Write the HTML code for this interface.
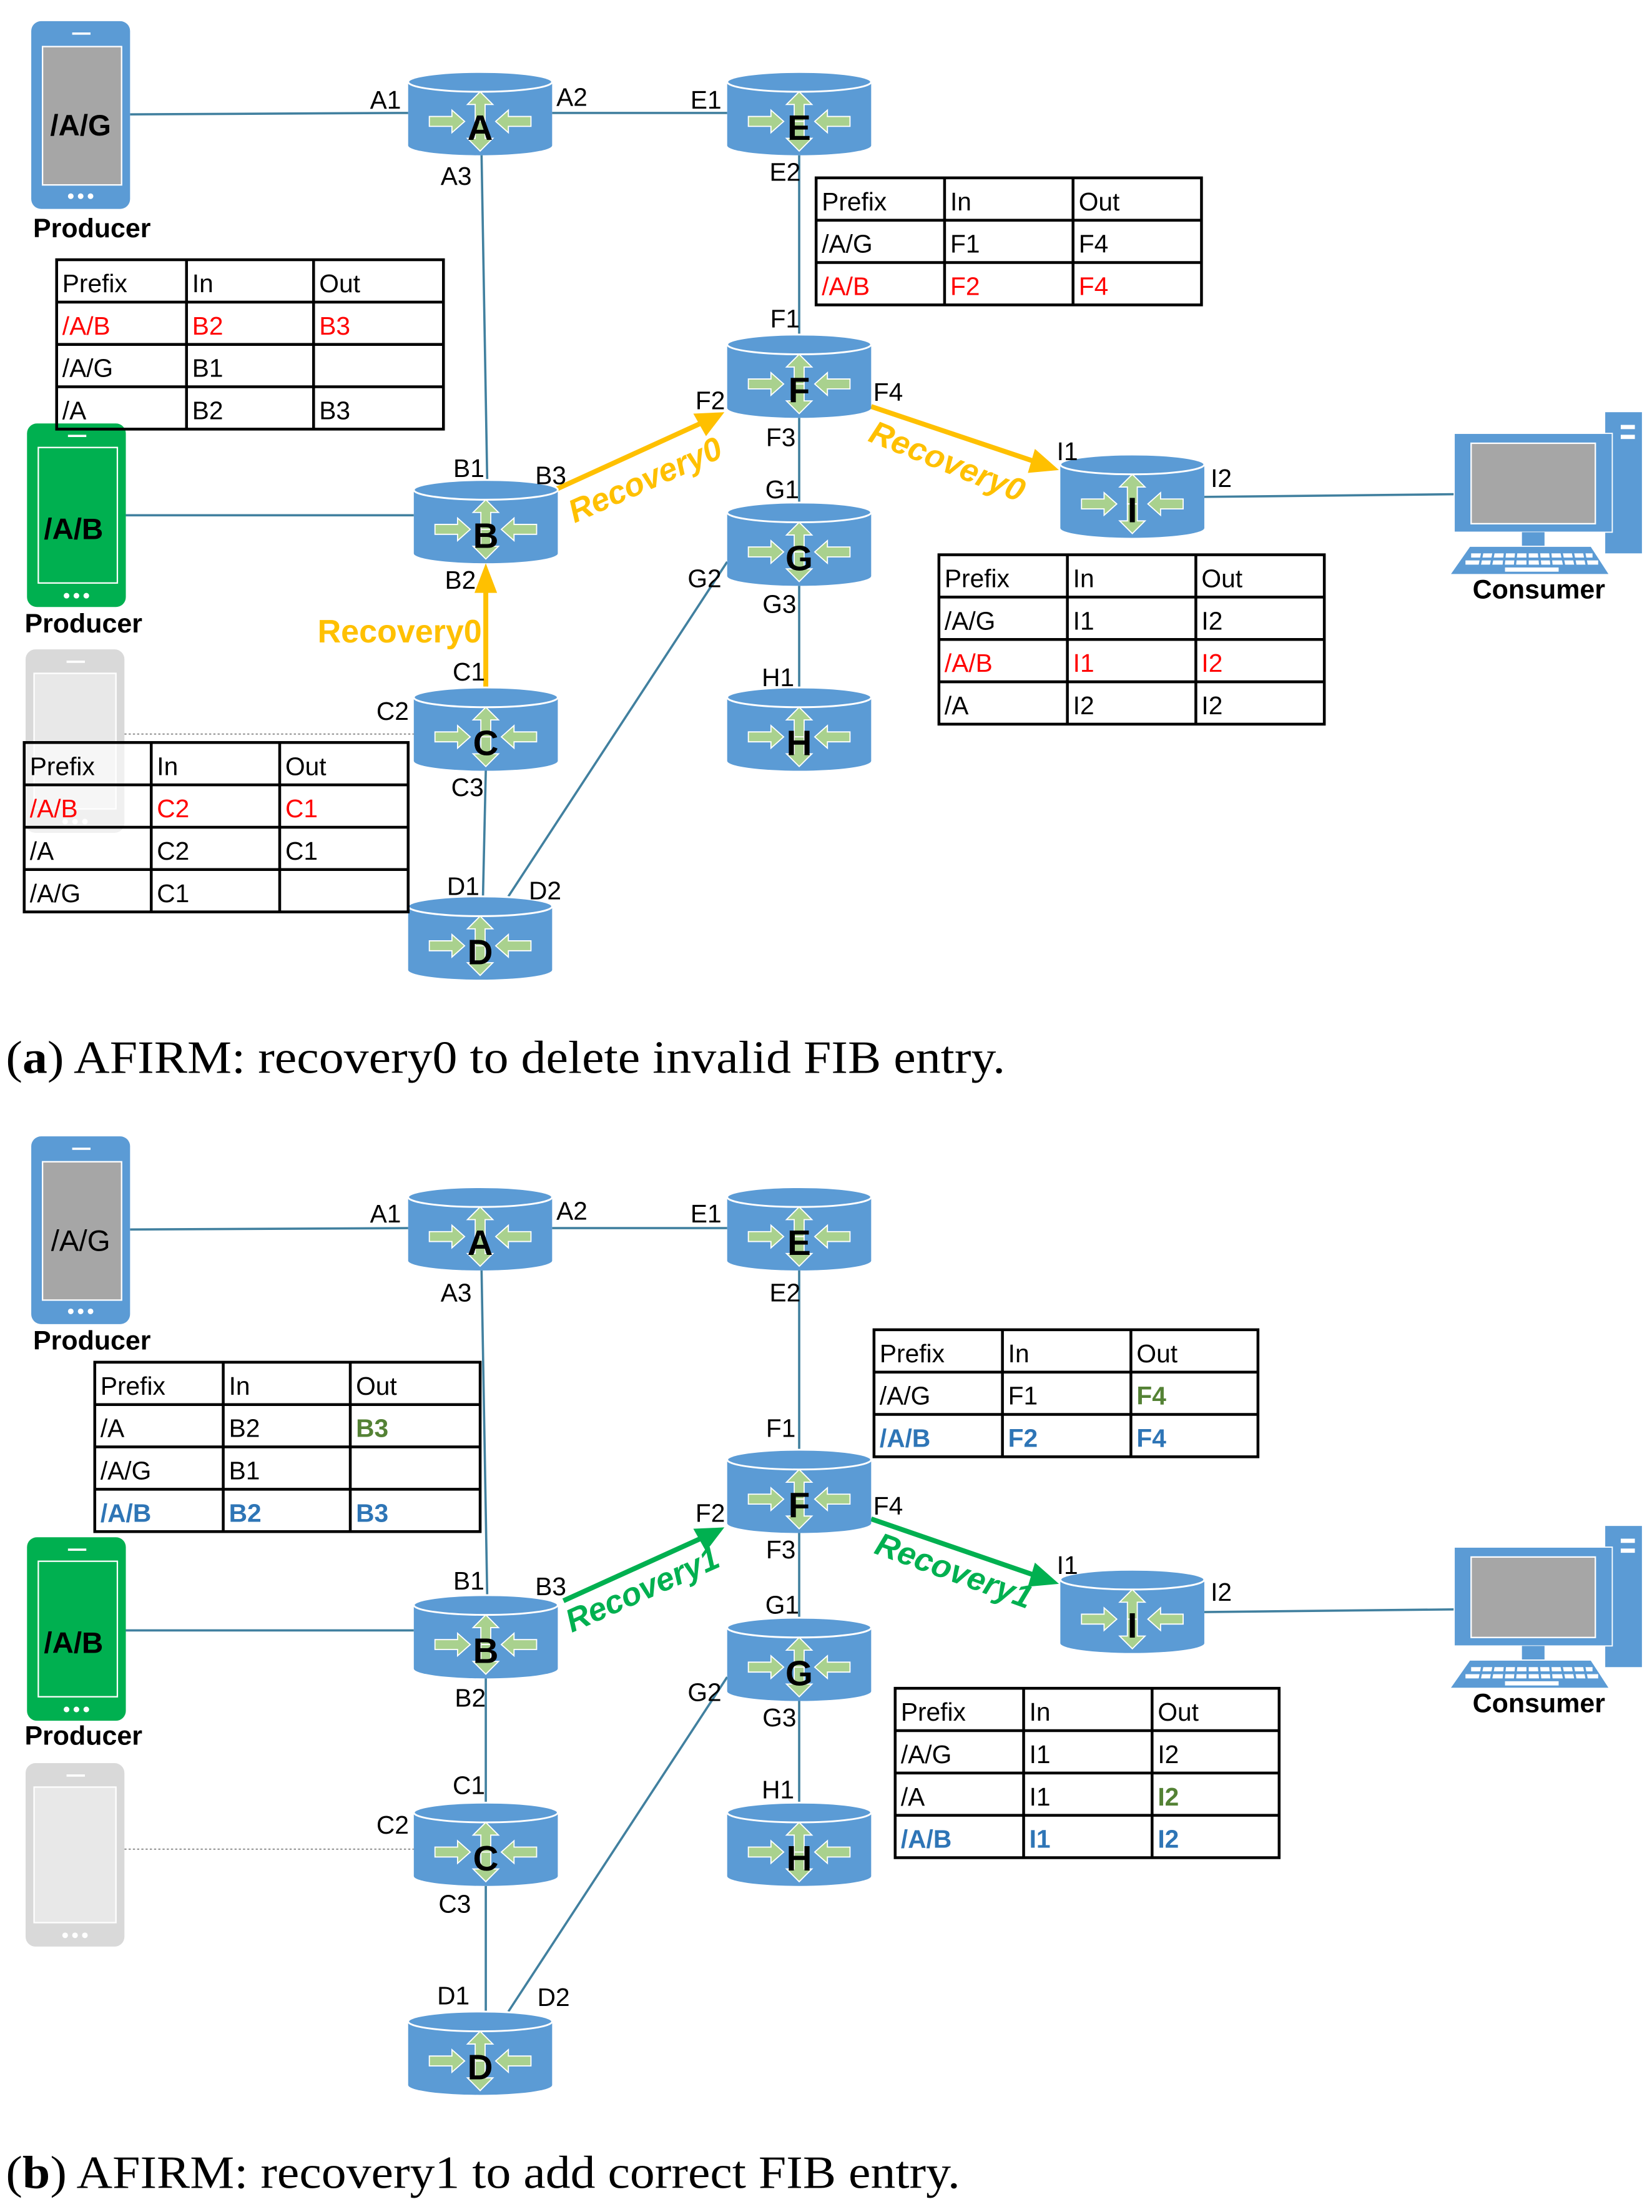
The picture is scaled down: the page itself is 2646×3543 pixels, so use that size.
<!DOCTYPE html>
<html><head><meta charset="utf-8"><style>
html,body{margin:0;padding:0;background:#fff}
svg{display:block}
.p{font-family:"Liberation Sans",sans-serif;font-size:18px;fill:#000;text-anchor:middle}
.t{font-family:"Liberation Sans",sans-serif;font-size:18px;fill:#000}
.rl{font-family:"Liberation Sans",sans-serif;font-size:25px;font-weight:bold;text-anchor:middle}
.lab{font-family:"Liberation Sans",sans-serif;font-size:19px;font-weight:bold;text-anchor:middle;fill:#000}
.rec{font-family:"Liberation Sans",sans-serif;font-size:23px;font-weight:bold;font-style:italic;text-anchor:middle}
.cap{font-family:"Liberation Serif",serif;font-size:33px;fill:#000}
.ln{stroke:#41809f;stroke-width:1.6;fill:none}
.tb{fill:none;stroke:#000;stroke-width:2}
.red{fill:#ff0000}.gr{fill:#548235;font-weight:bold}.bl{fill:#2e75b6;font-weight:bold}
</style></head><body>
<svg width="2646" height="3543" viewBox="0 0 1170 1567" xmlns="http://www.w3.org/2000/svg">
<defs>
<g id="r">
<path d="M-51,7 L-51,52 A51,7 0 0 0 51,52 L51,7 Z" fill="#5b9bd5"/>
<ellipse cx="0" cy="7" rx="51" ry="7" fill="#5b9bd5" stroke="#fff" stroke-width="1.3"/>
<g fill="#a9d18e" stroke="#fff" stroke-width="0.8">
<polygon points="0,14 9,23 3.5,23 3.5,35 -3.5,35 -3.5,23 -9,23"/>
<polygon points="0,56 9,47 3.5,47 3.5,35 -3.5,35 -3.5,47 -9,47"/>
<polygon points="-11,35 -20,27 -20,31.5 -36,31.5 -36,38.5 -20,38.5 -20,43"/>
<polygon points="11,35 20,27 20,31.5 36,31.5 36,38.5 20,38.5 20,43"/>
</g>
</g>
<g id="phoneB">
<rect x="0" y="0" width="70" height="133" rx="7" fill="#5b9bd5"/>
<rect x="8" y="18" width="56" height="98" fill="#a6a6a6" stroke="#fff" stroke-width="1"/>
<rect x="29" y="8" width="13" height="1.6" fill="#fff"/>
<circle cx="28" cy="124" r="2" fill="#fff"/><circle cx="35" cy="124" r="2" fill="#fff"/><circle cx="42" cy="124" r="2" fill="#fff"/>
</g>
<g id="phoneG">
<rect x="0" y="0" width="70" height="130" rx="7" fill="#00b050"/>
<rect x="8" y="17" width="56" height="96" fill="#00b050" stroke="#fff" stroke-width="1"/>
<rect x="29" y="8" width="13" height="1.6" fill="#fff"/>
<circle cx="28" cy="122" r="2" fill="#fff"/><circle cx="35" cy="122" r="2" fill="#fff"/><circle cx="42" cy="122" r="2" fill="#fff"/>
</g>
<g id="phoneL">
<rect x="0" y="0" width="70" height="130" rx="7" fill="#d9d9d9"/>
<rect x="6" y="17" width="58" height="96" fill="#e8e8e8" stroke="#fff" stroke-width="1"/>
<rect x="29" y="8" width="13" height="1.6" fill="#fff"/>
<circle cx="28" cy="122" r="2" fill="#fff"/><circle cx="35" cy="122" r="2" fill="#fff"/><circle cx="42" cy="122" r="2" fill="#fff"/>
</g>
<g id="pc">
<rect x="107" y="0" width="26" height="100" fill="#5b9bd5"/>
<rect x="118" y="9" width="10" height="3" fill="#fff"/><rect x="118" y="16" width="10" height="3" fill="#fff"/>
<rect x="0" y="15" width="112" height="70" fill="#5b9bd5" stroke="#fff" stroke-width="0.8"/>
<rect x="12" y="22" width="88" height="57" fill="#a6a6a6" stroke="#fff" stroke-width="1"/>
<rect x="48" y="85" width="16" height="10" fill="#5b9bd5"/>
<polygon points="11,95 97,95 110,115 -3,115" fill="#5b9bd5" stroke="#fff" stroke-width="0.8"/>
<g fill="#fff"><rect x="12" y="100" width="86" height="3"/><rect x="8" y="105" width="94" height="3"/><rect x="36" y="110" width="38" height="3"/></g>
<g stroke="#5b9bd5" stroke-width="1.6"><line x1="20" y1="99" x2="18" y2="109"/><line x1="28" y1="99" x2="26" y2="109"/><line x1="36" y1="99" x2="35" y2="109"/><line x1="44" y1="99" x2="43" y2="109"/><line x1="52" y1="99" x2="52" y2="109"/><line x1="60" y1="99" x2="61" y2="109"/><line x1="68" y1="99" x2="69" y2="109"/><line x1="76" y1="99" x2="78" y2="109"/><line x1="84" y1="99" x2="86" y2="109"/><line x1="92" y1="99" x2="94" y2="109"/></g>
</g>
</defs>

<!-- ================= PANEL A ================= -->
<g class="ln">
<line x1="92" y1="81" x2="289" y2="80"/>
<line x1="391" y1="80" x2="515" y2="80"/>
<line x1="341" y1="110" x2="345" y2="340"/>
<line x1="566" y1="110" x2="566" y2="237"/>
<line x1="566" y1="296" x2="566" y2="356"/>
<line x1="566" y1="415" x2="566" y2="487"/>
<line x1="89" y1="365" x2="293" y2="365"/>
<line x1="344" y1="546" x2="342" y2="635"/>
<line x1="360" y1="635" x2="515" y2="398"/>
<line x1="853" y1="352" x2="1040" y2="350"/>
</g>
<line x1="88" y1="520" x2="293" y2="520" stroke="#999" stroke-width="1" stroke-dasharray="1.5,1.5"/>
<g stroke="#ffc000" stroke-width="3.5" fill="none">
<line x1="344" y1="487" x2="344" y2="418"/>
<line x1="393" y1="347" x2="496" y2="300"/>
<line x1="617" y1="288" x2="733" y2="327"/>
</g>
<g fill="#ffc000">
<polygon points="344,399 336,420 352,420"/>
<polygon points="513,292 491,293 500,309"/>
<polygon points="750,333 733,318 728,335"/>
</g>

<use href="#phoneB" x="22" y="15"/>
<text class="lab" x="57" y="96" style="font-size:21px">/A/G</text>
<text class="lab" x="65" y="168">Producer</text>
<use href="#phoneG" x="19" y="300"/>
<text class="lab" x="52" y="382" style="font-size:21px">/A/B</text>
<text class="lab" x="59" y="448">Producer</text>
<use href="#phoneL" x="18" y="460"/>
<use href="#pc" x="1030" y="292"/>
<text class="lab" x="1090" y="424">Consumer</text>

<use href="#r" x="340" y="51"/><text class="rl" x="340" y="99">A</text>
<use href="#r" x="566" y="51"/><text class="rl" x="566" y="99">E</text>
<use href="#r" x="566" y="237"/><text class="rl" x="566" y="285">F</text>
<use href="#r" x="344" y="340"/><text class="rl" x="344" y="388">B</text>
<use href="#r" x="566" y="356"/><text class="rl" x="566" y="404">G</text>
<use href="#r" x="802" y="322"/><text class="rl" x="802" y="370">I</text>
<use href="#r" x="344" y="487"/><text class="rl" x="344" y="535">C</text>
<use href="#r" x="566" y="487"/><text class="rl" x="566" y="535">H</text>
<use href="#r" x="340" y="635"/><text class="rl" x="340" y="683">D</text>

<g class="p">
<text x="273" y="77">A1</text><text x="405" y="75">A2</text><text x="500" y="77">E1</text>
<text x="323" y="131">A3</text><text x="556" y="128">E2</text><text x="556" y="232">F1</text>
<text x="503" y="290">F2</text><text x="629" y="284">F4</text><text x="553" y="316">F3</text>
<text x="332" y="338">B1</text><text x="390" y="343">B3</text><text x="554" y="353">G1</text>
<text x="756" y="326">I1</text><text x="865" y="345">I2</text><text x="326" y="417">B2</text>
<text x="499" y="416">G2</text><text x="552" y="434">G3</text><text x="332" y="482">C1</text>
<text x="278" y="510">C2</text><text x="551" y="486">H1</text><text x="331" y="564">C3</text>
<text x="328" y="634">D1</text><text x="386" y="637">D2</text>
</g>
<g class="rec" fill="#ffc000">
<text x="283" y="455" style="font-style:normal">Recovery0</text>
<text transform="translate(460,347) rotate(-24)">Recovery0</text>
<text transform="translate(668,334) rotate(22)">Recovery0</text>
</g>

<g class="tb"><rect x="40" y="184" width="274" height="120"/>
<line x1="40" y1="214" x2="314" y2="214"/><line x1="40" y1="244" x2="314" y2="244"/><line x1="40" y1="274" x2="314" y2="274"/>
<line x1="132" y1="184" x2="132" y2="304"/><line x1="222" y1="184" x2="222" y2="304"/></g>
<g class="t">
<text x="44" y="207">Prefix</text><text x="136" y="207">In</text><text x="226" y="207">Out</text>
<text x="44" y="237" class="red">/A/B</text><text x="136" y="237" class="red">B2</text><text x="226" y="237" class="red">B3</text>
<text x="44" y="267">/A/G</text><text x="136" y="267">B1</text>
<text x="44" y="297">/A</text><text x="136" y="297">B2</text><text x="226" y="297">B3</text>
</g>
<g class="tb"><rect x="578" y="126" width="273" height="90"/>
<line x1="578" y1="156" x2="851" y2="156"/><line x1="578" y1="186" x2="851" y2="186"/>
<line x1="669" y1="126" x2="669" y2="216"/><line x1="760" y1="126" x2="760" y2="216"/></g>
<g class="t">
<text x="582" y="149">Prefix</text><text x="673" y="149">In</text><text x="764" y="149">Out</text>
<text x="582" y="179">/A/G</text><text x="673" y="179">F1</text><text x="764" y="179">F4</text>
<text x="582" y="209" class="red">/A/B</text><text x="673" y="209" class="red">F2</text><text x="764" y="209" class="red">F4</text>
</g>
<g class="tb"><rect x="665" y="393" width="273" height="120"/>
<line x1="665" y1="423" x2="938" y2="423"/><line x1="665" y1="453" x2="938" y2="453"/><line x1="665" y1="483" x2="938" y2="483"/>
<line x1="756" y1="393" x2="756" y2="513"/><line x1="847" y1="393" x2="847" y2="513"/></g>
<g class="t">
<text x="669" y="416">Prefix</text><text x="760" y="416">In</text><text x="851" y="416">Out</text>
<text x="669" y="446">/A/G</text><text x="760" y="446">I1</text><text x="851" y="446">I2</text>
<text x="669" y="476" class="red">/A/B</text><text x="760" y="476" class="red">I1</text><text x="851" y="476" class="red">I2</text>
<text x="669" y="506">/A</text><text x="760" y="506">I2</text><text x="851" y="506">I2</text>
</g>
<g><rect x="17" y="526" width="272" height="120" fill="#fff" fill-opacity="0.6"/></g>
<g class="tb"><rect x="17" y="526" width="272" height="120"/>
<line x1="17" y1="556" x2="289" y2="556"/><line x1="17" y1="586" x2="289" y2="586"/><line x1="17" y1="616" x2="289" y2="616"/>
<line x1="107" y1="526" x2="107" y2="646"/><line x1="198" y1="526" x2="198" y2="646"/></g>
<g class="t">
<text x="21" y="549">Prefix</text><text x="111" y="549">In</text><text x="202" y="549">Out</text>
<text x="21" y="579" class="red">/A/B</text><text x="111" y="579" class="red">C2</text><text x="202" y="579" class="red">C1</text>
<text x="21" y="609">/A</text><text x="111" y="609">C2</text><text x="202" y="609">C1</text>
<text x="21" y="639">/A/G</text><text x="111" y="639">C1</text>
</g>

<text class="cap" x="4" y="760" textLength="708" lengthAdjust="spacingAndGlyphs">(<tspan font-weight="bold">a</tspan>) AFIRM: recovery0 to delete invalid FIB entry.</text>

<!-- ================= PANEL B ================= -->
<g class="ln">
<line x1="92" y1="871" x2="289" y2="870"/>
<line x1="391" y1="870" x2="515" y2="870"/>
<line x1="341" y1="900" x2="345" y2="1130"/>
<line x1="566" y1="900" x2="566" y2="1027"/>
<line x1="566" y1="1086" x2="566" y2="1146"/>
<line x1="566" y1="1205" x2="566" y2="1277"/>
<line x1="89" y1="1155" x2="293" y2="1155"/>
<line x1="344" y1="1189" x2="344" y2="1277"/>
<line x1="344" y1="1336" x2="344" y2="1425"/>
<line x1="360" y1="1425" x2="515" y2="1188"/>
<line x1="853" y1="1142" x2="1040" y2="1140"/>
</g>
<line x1="88" y1="1310" x2="293" y2="1310" stroke="#999" stroke-width="1" stroke-dasharray="1.5,1.5"/>
<g stroke="#00b050" stroke-width="3.5" fill="none">
<line x1="399" y1="1134" x2="496" y2="1090"/>
<line x1="617" y1="1076" x2="733" y2="1116"/>
</g>
<g fill="#00b050">
<polygon points="513,1082 491,1083 500,1099"/>
<polygon points="750,1122 733,1107 728,1124"/>
</g>

<use href="#phoneB" x="22" y="805"/>
<text class="t" x="57" y="886" style="font-size:21px;text-anchor:middle">/A/G</text>
<text class="lab" x="65" y="956">Producer</text>
<use href="#phoneG" x="19" y="1089"/>
<text class="lab" x="52" y="1171" style="font-size:21px">/A/B</text>
<text class="lab" x="59" y="1236">Producer</text>
<use href="#phoneL" x="18" y="1249"/>
<use href="#pc" x="1030" y="1081"/>
<text class="lab" x="1090" y="1213">Consumer</text>

<use href="#r" x="340" y="841"/><text class="rl" x="340" y="889">A</text>
<use href="#r" x="566" y="841"/><text class="rl" x="566" y="889">E</text>
<use href="#r" x="566" y="1027"/><text class="rl" x="566" y="1075">F</text>
<use href="#r" x="344" y="1130"/><text class="rl" x="344" y="1178">B</text>
<use href="#r" x="566" y="1146"/><text class="rl" x="566" y="1194">G</text>
<use href="#r" x="802" y="1112"/><text class="rl" x="802" y="1160">I</text>
<use href="#r" x="344" y="1277"/><text class="rl" x="344" y="1325">C</text>
<use href="#r" x="566" y="1277"/><text class="rl" x="566" y="1325">H</text>
<use href="#r" x="340" y="1425"/><text class="rl" x="340" y="1473">D</text>

<g class="p">
<text x="273" y="866">A1</text><text x="405" y="864">A2</text><text x="500" y="866">E1</text>
<text x="323" y="922">A3</text><text x="556" y="922">E2</text><text x="553" y="1018">F1</text>
<text x="503" y="1078">F2</text><text x="629" y="1073">F4</text><text x="553" y="1104">F3</text>
<text x="332" y="1126">B1</text><text x="390" y="1130">B3</text><text x="554" y="1143">G1</text>
<text x="756" y="1115">I1</text><text x="865" y="1134">I2</text><text x="333" y="1209">B2</text>
<text x="499" y="1205">G2</text><text x="552" y="1223">G3</text><text x="332" y="1271">C1</text>
<text x="278" y="1299">C2</text><text x="551" y="1274">H1</text><text x="322" y="1355">C3</text>
<text x="321" y="1420">D1</text><text x="392" y="1421">D2</text>
</g>
<g class="rec" fill="#00b050">
<text transform="translate(458,1133) rotate(-24)">Recovery1</text>
<text transform="translate(673,1120) rotate(20)">Recovery1</text>
</g>

<g class="tb"><rect x="67" y="965" width="273" height="120"/>
<line x1="67" y1="995" x2="340" y2="995"/><line x1="67" y1="1025" x2="340" y2="1025"/><line x1="67" y1="1055" x2="340" y2="1055"/>
<line x1="158" y1="965" x2="158" y2="1085"/><line x1="248" y1="965" x2="248" y2="1085"/></g>
<g class="t">
<text x="71" y="988">Prefix</text><text x="162" y="988">In</text><text x="252" y="988">Out</text>
<text x="71" y="1018">/A</text><text x="162" y="1018">B2</text><text x="252" y="1018" class="gr">B3</text>
<text x="71" y="1048">/A/G</text><text x="162" y="1048">B1</text>
<text x="71" y="1078" class="bl">/A/B</text><text x="162" y="1078" class="bl">B2</text><text x="252" y="1078" class="bl">B3</text>
</g>
<g class="tb"><rect x="619" y="942" width="272" height="90"/>
<line x1="619" y1="972" x2="891" y2="972"/><line x1="619" y1="1002" x2="891" y2="1002"/>
<line x1="710" y1="942" x2="710" y2="1032"/><line x1="801" y1="942" x2="801" y2="1032"/></g>
<g class="t">
<text x="623" y="965">Prefix</text><text x="714" y="965">In</text><text x="805" y="965">Out</text>
<text x="623" y="995">/A/G</text><text x="714" y="995">F1</text><text x="805" y="995" class="gr">F4</text>
<text x="623" y="1025" class="bl">/A/B</text><text x="714" y="1025" class="bl">F2</text><text x="805" y="1025" class="bl">F4</text>
</g>
<g class="tb"><rect x="634" y="1196" width="272" height="120"/>
<line x1="634" y1="1226" x2="906" y2="1226"/><line x1="634" y1="1256" x2="906" y2="1256"/><line x1="634" y1="1286" x2="906" y2="1286"/>
<line x1="725" y1="1196" x2="725" y2="1316"/><line x1="816" y1="1196" x2="816" y2="1316"/></g>
<g class="t">
<text x="638" y="1219">Prefix</text><text x="729" y="1219">In</text><text x="820" y="1219">Out</text>
<text x="638" y="1249">/A/G</text><text x="729" y="1249">I1</text><text x="820" y="1249">I2</text>
<text x="638" y="1279">/A</text><text x="729" y="1279">I1</text><text x="820" y="1279" class="gr">I2</text>
<text x="638" y="1309" class="bl">/A/B</text><text x="729" y="1309" class="bl">I1</text><text x="820" y="1309" class="bl">I2</text>
</g>

<text class="cap" x="4" y="1550" textLength="676" lengthAdjust="spacingAndGlyphs">(<tspan font-weight="bold">b</tspan>) AFIRM: recovery1 to add correct FIB entry.</text>
</svg>
</body></html>
